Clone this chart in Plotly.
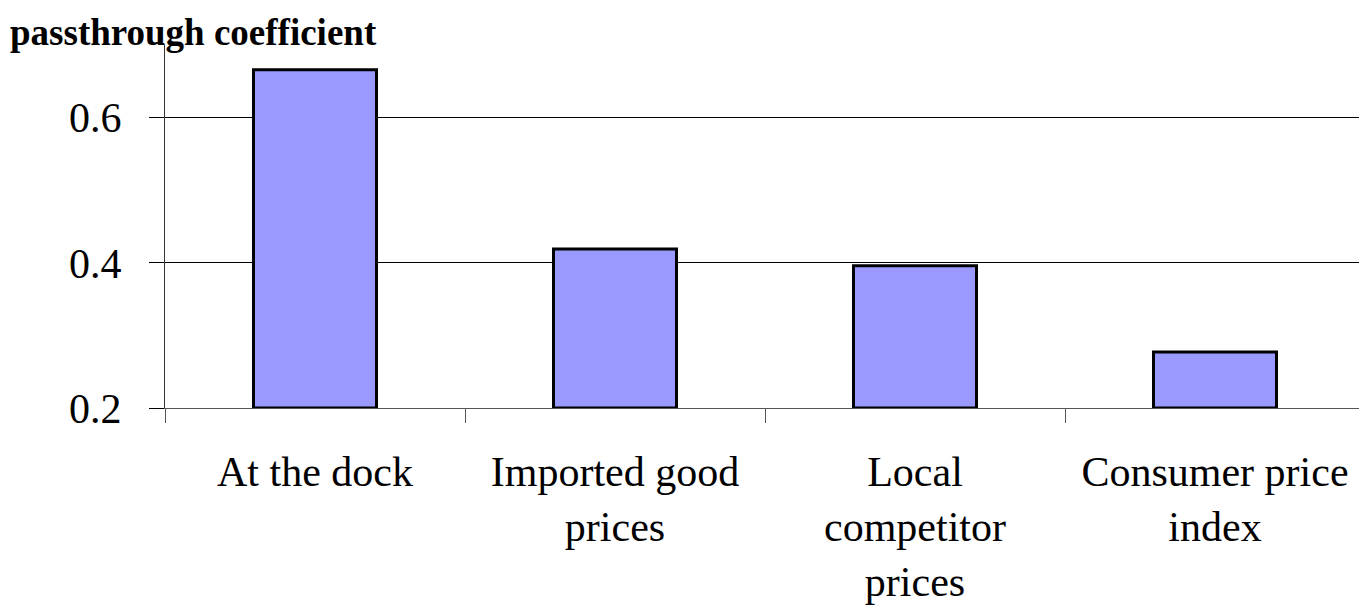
import plotly.graph_objects as go

categories = ["At the dock", "Imported good<br>prices", "Local<br>competitor<br>prices", "Consumer price<br>index"]
passthrough = [0.666, 0.419, 0.396, 0.277]
y_ticks = [0.2, 0.4, 0.6]
y_tick_labels = ["0.2", "0.4", "0.6"]

serif = "Liberation Serif, Times New Roman, serif"

fig = go.Figure(
    go.Bar(
        x=categories,
        y=[v - 0.2 for v in passthrough],
        base=0.2,
        width=0.41,
        marker=dict(color="#9999FF", line=dict(color="black", width=3)),
        hoverinfo="skip",
    )
)

fig.update_layout(
    width=1359,
    height=606,
    margin=dict(l=165, r=0, t=45, b=198),
    paper_bgcolor="white",
    plot_bgcolor="white",
    showlegend=False,
    font=dict(family=serif, color="black", size=42),
    title=dict(
        text="<b>passthrough coefficient</b>",
        font=dict(family=serif, size=37, color="black"),
        x=10 / 1359,
        xanchor="left",
        xref="container",
        y=1 - 32 / 606,
        yanchor="middle",
        yref="container",
    ),
)

fig.update_xaxes(
    type="category",
    range=[-0.5, 3.48],
    tickson="boundaries",
    ticks="outside",
    ticklen=14,
    tickcolor="#555",
    tickwidth=1,
    showline=True,
    linecolor="#555",
    linewidth=1,
    showgrid=False,
    tickfont=dict(family=serif, size=42, color="black"),
    ticklabelstandoff=27,
)

fig.update_yaxes(
    range=[0.2, 0.7],
    tickvals=y_ticks,
    ticktext=y_tick_labels,
    ticks="outside",
    ticklen=15,
    tickcolor="black",
    tickwidth=1,
    showline=True,
    linecolor="#333",
    linewidth=1,
    showgrid=True,
    gridcolor="black",
    gridwidth=1,
    zeroline=False,
    tickfont=dict(family=serif, size=42, color="black"),
    ticklabelstandoff=19,
)

fig.write_html("out.html")
